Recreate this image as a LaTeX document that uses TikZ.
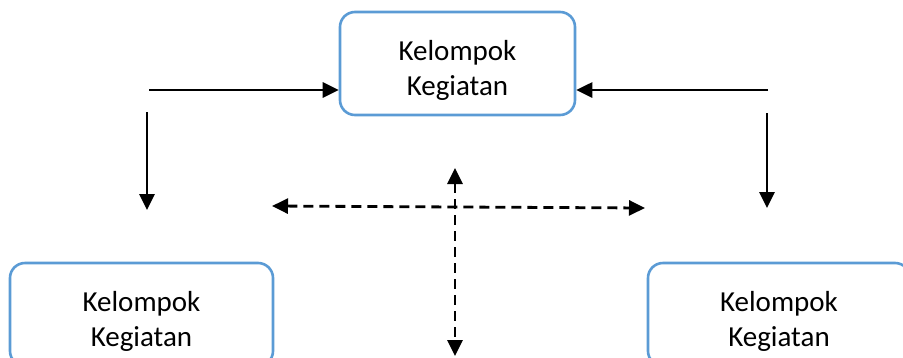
\documentclass[tikz,border=0pt]{standalone}
\usepackage{fontspec}
\setmainfont{Carlito}
\usetikzlibrary{arrows.meta}
\definecolor{boxblue}{HTML}{5B9BD5}
\newcommand{\grouptext}{\rule{0pt}{34pt}Kelompok\\Kegiatan}
\begin{document}
\begin{tikzpicture}[x=1pt,y=-1pt,
  group/.style={draw=boxblue, line width=2.6pt, rounded corners=15pt,
    minimum height=103pt, align=center, inner sep=0pt,
    font=\fontsize{29}{35}\selectfont},
  tip/.tip={Triangle[length=16pt,width=15pt]},
  flow/.style={line width=2.8pt, -tip},
  link/.style={line width=2.8pt, tip-tip, dash pattern=on 10pt off 6pt}]
\useasboundingbox (0,0) rectangle (903,357);
\clip (0,0) rectangle (903,357);

% activity groups
\node[group, minimum width=235pt] (top) at (457.5,63.5) {\grouptext};
\node[group, minimum width=263pt] (left) at (141.5,314.5) {\grouptext};
\node[group, minimum width=262pt] (right) at (779,314.5) {\grouptext};

% free ends of the connectors
\coordinate (tl) at (149,90);
\coordinate (tr) at (768,90);
\coordinate (ls) at (147,112);
\coordinate (le) at (147,210);
\coordinate (rs) at (767,113);
\coordinate (re) at (767,208);
\coordinate (hw) at (272,206);
\coordinate (he) at (645,208);
\coordinate (vn) at (455,168);
\coordinate (vs) at (455,356);

% solid arrows
\draw[flow] (tl) -- (top.west |- tl);
\draw[flow] (tr) -- (top.east |- tr);
\draw[flow] (ls) -- (le);
\draw[flow] (rs) -- (re);

% dashed two-way arrows
\draw[link] (hw) -- (he);
\draw[link] (vn) -- (vs);
\end{tikzpicture}
\end{document}
